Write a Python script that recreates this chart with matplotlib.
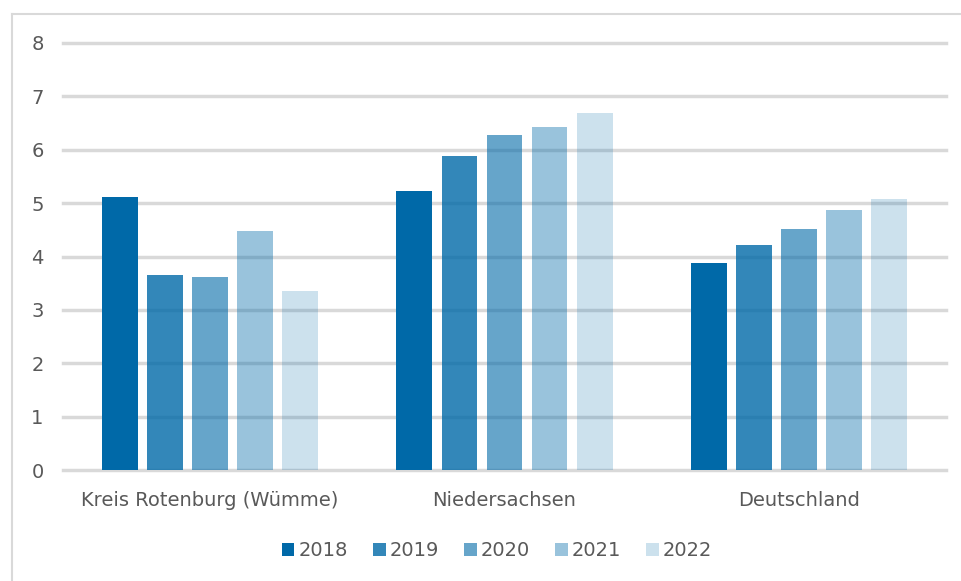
import matplotlib.pyplot as plt
from matplotlib.lines import Line2D
import numpy as np

# values
regions = ['Kreis Rotenburg (Wümme)', 'Niedersachsen', 'Deutschland']
years = ['2018', '2019', '2020', '2021', '2022']
v2018 = [5.11, 5.22, 3.87]
v2019 = [3.65, 5.89, 4.21]
v2020 = [3.61, 6.27, 4.51]
v2021 = [4.47, 6.42, 4.88]
v2022 = [3.35, 6.68, 5.07]
series = [v2018, v2019, v2020, v2021, v2022]
alphas = [1.0, 0.8, 0.6, 0.4, 0.2]
base = '#0069a8'
grey = '#595959'

plt.rcParams['font.family'] = ['DejaVu Sans']

W, H = 962, 581
fig = plt.figure(figsize=(W / 100, H / 100), dpi=100)
ax = fig.add_axes([63 / W, (H - 470) / H, (946 - 63) / W, (470 - 43) / H])

# outer frame: only top and left edges are inside the picture
fy = (H - 14) / H
fx = 12 / W
fig.add_artist(Line2D([fx, 1.02], [fy, fy], transform=fig.transFigure,
                      color='#d9d9d9', linewidth=1.5))
fig.add_artist(Line2D([fx, fx], [-0.02, fy], transform=fig.transFigure,
                      color='#d9d9d9', linewidth=1.5))

x = np.arange(len(regions))
step = 0.153
width = 0.122
for i, (yr, vals) in enumerate(zip(years, series)):
    ax.bar(x + (i - 2) * step, vals, width, color=base, alpha=alphas[i],
           label=yr, zorder=2, linewidth=0)

ax.set_xlim(-0.5, 2.5)
ax.set_ylim(0, 8)
ax.set_yticks(range(0, 9))
for t in range(0, 9):
    ax.axhline(t, color='#d9d9d9', linewidth=2.5, zorder=1, clip_on=False)

for s in ax.spines.values():
    s.set_visible(False)
ax.tick_params(axis='both', length=0, colors=grey, labelsize=14)
ax.tick_params(axis='y', pad=14)
ax.tick_params(axis='x', pad=15)
ax.set_xticks(x)
ax.set_xticklabels(regions)

leg = fig.legend(loc='center', bbox_to_anchor=(497 / W, (H - 551) / H), ncol=5,
                 frameon=False, fontsize=14, handlelength=0.65, handleheight=0.65,
                 handletextpad=0.2, columnspacing=1.3)
for txt in leg.get_texts():
    txt.set_color(grey)

fig.savefig('out.png', dpi=100)
